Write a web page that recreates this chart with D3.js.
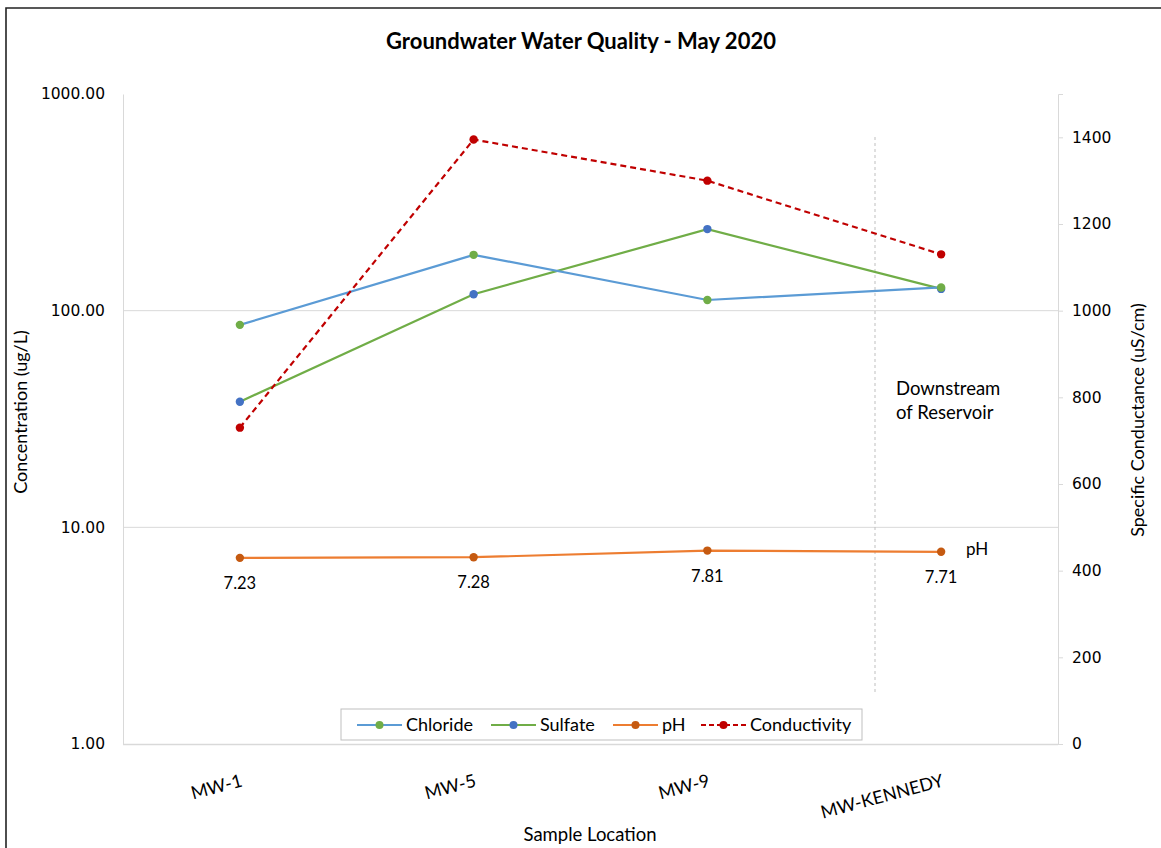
<!DOCTYPE html>
<html><head><meta charset="utf-8">
<script src="https://cdn.jsdelivr.net/npm/d3@7"></script>
<style>
html,body{margin:0;padding:0;background:#fff;}
svg{display:block;}
</style></head>
<body>
<svg id="chart" width="1161" height="848" font-family="Lato, 'Open Sans', sans-serif"></svg>
<script>
const categories = ["MW-1", "MW-5", "MW-9", "MW-KENNEDY"];
const chloride = [86, 181, 112, 128];
const sulfate = [38, 119, 238, 126];
const ph = [7.23, 7.28, 7.81, 7.71];
const conductivity = [730, 1395, 1300, 1130];
const leftTicks = [1, 10, 100, 1000];
const rightTicks = [0, 200, 400, 600, 800, 1000, 1200, 1400];

const svg = d3.select("#chart");
const m = {left: 123, right: 1058, top: 94, bottom: 744};
const FONT = "Lato, 'Open Sans', sans-serif";

// outer border
svg.append("path").attr("d", "M6,860 L6,8 L1170,8")
  .attr("fill", "none").attr("stroke", "#222").attr("stroke-width", 1.6);

const x = d3.scalePoint().domain(categories).range([m.left, m.right]).padding(0.5);
const yL = d3.scaleLog().domain([1, 1000]).range([m.bottom, m.top]);
const yR = d3.scaleLinear().domain([0, 1500]).range([m.bottom, m.top]);

// gridlines
svg.append("g").selectAll("line").data([10, 100]).join("line")
  .attr("x1", m.left).attr("x2", m.right)
  .attr("y1", d => yL(d)).attr("y2", d => yL(d))
  .attr("stroke", "#d9d9d9").attr("stroke-width", 1);

// left axis
const gL = svg.append("g").attr("transform", `translate(${m.left},0)`)
  .call(d3.axisLeft(yL).tickValues(leftTicks).tickFormat(d3.format(".2f")).tickSize(0).tickPadding(18));
gL.attr("font-family", "DejaVu Sans").attr("font-size", 15.5);
gL.select(".domain").attr("stroke", "#d9d9d9");
gL.selectAll("text").attr("fill", "#000");

// right axis
const gR = svg.append("g").attr("transform", `translate(${m.right},0)`)
  .call(d3.axisRight(yR).tickValues(rightTicks).tickFormat(d3.format("d")).tickSize(5).tickPadding(9));
gR.attr("font-family", "DejaVu Sans").attr("font-size", 15.5);
gR.select(".domain").attr("stroke", "#d9d9d9");
gR.selectAll("line").attr("stroke", "#d9d9d9");
gR.selectAll("text").attr("fill", "#000");

// bottom axis
const gB = svg.append("g").attr("transform", `translate(0,${m.bottom})`)
  .call(d3.axisBottom(x).tickSize(0).tickPadding(0));
gB.attr("font-family", FONT).attr("font-size", 18);
gB.select(".domain").attr("stroke", "#d9d9d9").attr("stroke-width", 1.5)
  .attr("d", `M${m.left},0.5H${m.right}`);
gB.selectAll("text").attr("text-anchor", "end").attr("fill", "#000")
  .attr("dy", 0).attr("y", 0)
  .attr("transform", "translate(3,42) rotate(-15)");

// vertical dashed divider
svg.append("line").attr("x1", 875).attr("x2", 875).attr("y1", 137).attr("y2", 692)
  .attr("stroke", "#bfbfbf").attr("stroke-width", 1).attr("stroke-dasharray", "3,3");

const line = (sc) => d3.line().x((d, i) => x(categories[i])).y(d => sc(d));

function series(vals, sc, lineColor, markColor, dash) {
  svg.append("path").datum(vals).attr("d", line(sc))
    .attr("fill", "none").attr("stroke", lineColor).attr("stroke-width", 2.2)
    .attr("stroke-dasharray", dash || null);
  svg.append("g").selectAll("circle").data(vals).join("circle")
    .attr("cx", (d, i) => x(categories[i])).attr("cy", d => sc(d)).attr("r", 4.2)
    .attr("fill", markColor);
}
series(ph, yL, "#ed7d31", "#c55a11");
series(sulfate, yL, "#70ad47", "#4472c4");
series(chloride, yL, "#5b9bd5", "#70ad47");
series(conductivity, yR, "#c00000", "#c00000", "6,4");

// pH labels
svg.append("g").attr("font-family", FONT).attr("font-size", 16.5)
  .selectAll("text").data(ph).join("text")
  .attr("x", (d, i) => x(categories[i])).attr("y", (d, i) => yL(d) + 31)
  .attr("text-anchor", "middle").text(d => d.toFixed(2));
svg.append("text").attr("font-family", FONT).attr("x", 966).attr("y", 555).attr("font-size", 17).text("pH");

// annotation
svg.append("text").attr("font-family", FONT).attr("x", 896).attr("y", 395).attr("font-size", 18.5).text("Downstream");
svg.append("text").attr("font-family", FONT).attr("x", 896).attr("y", 419).attr("font-size", 18.5).text("of Reservoir");

// title
svg.append("text").attr("font-family", FONT).attr("x", 581).attr("y", 49).attr("text-anchor", "middle")
  .attr("font-size", 22).attr("font-weight", "bold").text("Groundwater Water Quality - May 2020");

// axis titles
svg.append("text").attr("font-family", FONT).attr("transform", "translate(27,412) rotate(-90)").attr("text-anchor", "middle")
  .attr("font-size", 18).text("Concentration (ug/L)");
svg.append("text").attr("font-family", FONT).attr("transform", "translate(1144,420) rotate(-90)").attr("text-anchor", "middle")
  .attr("font-size", 18).text("Specific Conductance (uS/cm)");
svg.append("text").attr("font-family", FONT).attr("x", 590).attr("y", 841).attr("text-anchor", "middle")
  .attr("font-size", 18.5).text("Sample Location");

// legend
const leg = svg.append("g").attr("font-family", FONT);
leg.append("rect").attr("x", 341).attr("y", 709).attr("width", 521).attr("height", 31)
  .attr("fill", "#fff").attr("stroke", "#bfbfbf").attr("stroke-width", 1);
const legItems = [
  {name: "Chloride", lc: "#5b9bd5", mc: "#70ad47", dash: null, x: 357},
  {name: "Sulfate", lc: "#70ad47", mc: "#4472c4", dash: null, x: 491},
  {name: "pH", lc: "#ed7d31", mc: "#c55a11", dash: null, x: 613},
  {name: "Conductivity", lc: "#c00000", mc: "#c00000", dash: "5,3", x: 701}
];
legItems.forEach(it => {
  leg.append("line").attr("x1", it.x).attr("x2", it.x + 45).attr("y1", 725).attr("y2", 725)
    .attr("stroke", it.lc).attr("stroke-width", 2.2).attr("stroke-dasharray", it.dash);
  leg.append("circle").attr("cx", it.x + 22.5).attr("cy", 725).attr("r", 4).attr("fill", it.mc);
  leg.append("text").attr("x", it.x + 49).attr("y", 731).attr("font-size", 18).text(it.name);
});
</script>
</body></html>
